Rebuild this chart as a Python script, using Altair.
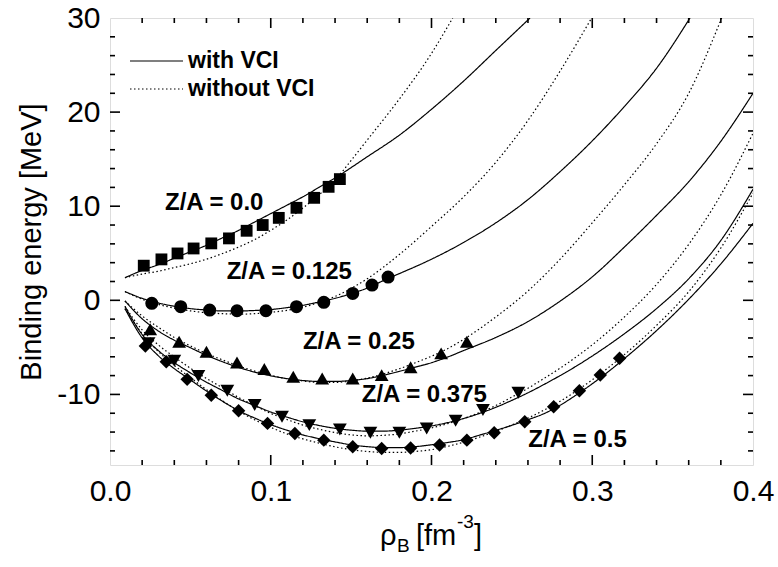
import altair as alt
import pandas as pd

# ---------------- data ----------------
za_labels = ["Z/A = 0.0", "Z/A = 0.125", "Z/A = 0.25", "Z/A = 0.375", "Z/A = 0.5"]
curve_types = ["with VCI", "without VCI"]

# symbols (points)
rho_p00 = [0.021, 0.032, 0.042, 0.052, 0.063, 0.074, 0.085, 0.095, 0.105, 0.116, 0.127, 0.136, 0.143]
e_p00 = [3.68, 4.35, 4.98, 5.51, 6.05, 6.58, 7.39, 8.0, 8.76, 9.83, 10.89, 12.06, 12.88]
rho_p0125 = [0.026, 0.044, 0.062, 0.079, 0.097, 0.116, 0.133, 0.151, 0.163, 0.173]
e_p0125 = [-0.32, -0.68, -1.04, -1.11, -1.11, -0.68, -0.21, 0.73, 1.62, 2.47]
rho_p025 = [0.025, 0.043, 0.060, 0.079, 0.096, 0.114, 0.132, 0.151, 0.169, 0.187, 0.206, 0.222]
e_p025 = [-3.08, -4.40, -5.46, -6.60, -7.30, -8.13, -8.30, -8.30, -7.95, -7.12, -5.64, -4.40]
rho_p0375 = [0.024, 0.040, 0.055, 0.073, 0.090, 0.107, 0.124, 0.143, 0.162, 0.180, 0.197, 0.215, 0.232, 0.254]
e_p0375 = [-4.57, -6.42, -8.05, -9.61, -11.13, -12.37, -13.26, -13.73, -14.08, -14.08, -13.62, -12.80, -11.66, -9.83]
rho_p05 = [0.022, 0.035, 0.048, 0.063, 0.080, 0.098, 0.115, 0.133, 0.151, 0.169, 0.187, 0.205,
           0.222, 0.239, 0.258, 0.276, 0.292, 0.305, 0.317]
e_p05 = [-4.86, -6.53, -8.40, -10.08, -11.74, -13.08, -14.15, -14.86, -15.56, -15.74, -15.70, -15.38,
         -14.86, -14.08, -12.91, -11.31, -9.61, -7.94, -6.16]

# curves (density grid)
rho_grid = [0.02, 0.03, 0.04, 0.05, 0.06, 0.07, 0.08, 0.09, 0.10, 0.11, 0.12, 0.13, 0.14, 0.15, 0.16,
            0.17, 0.18, 0.19, 0.20, 0.21, 0.22, 0.23, 0.24, 0.25, 0.26, 0.27, 0.28, 0.29, 0.30, 0.31, 0.32]
rho_start = [0.0093]

rho_s00 = rho_start + rho_grid[:13] + [0.16, 0.18, 0.20, 0.22, 0.24, 0.2613]
e_s00 = [2.40, 3.18, 3.78, 4.47, 5.16, 5.85, 6.64, 7.43, 8.32, 9.21, 10.1, 11.0, 12.0, 13.0,
         15.25, 17.55, 20.3, 23.3, 26.55, 30.0]
rho_d00 = rho_start + rho_grid[:14] + [0.16, 0.18, 0.20, 0.2132]
e_d00 = [2.40, 2.79, 3.09, 3.48, 3.88, 4.37, 4.97, 5.66, 6.45, 7.44, 8.53, 9.81, 11.2, 12.78, 14.86,
         17.03, 21.39, 26.24, 30.0]

rho_s0125 = rho_start + rho_grid[:19] + [0.22, 0.24, 0.26, 0.28, 0.30, 0.32, 0.34, 0.3608]
e_s0125 = [0.93, 0.21, -0.28, -0.63, -0.88, -1.03, -1.13, -1.13, -1.08, -0.98, -0.78, -0.53, -0.18,
           0.21, 0.71, 1.30, 2.09, 2.84, 3.58, 4.37, 6.15, 8.23, 10.7, 13.67, 16.94, 20.6, 24.66, 30.0]
rho_d0125 = rho_start + rho_grid[:13] + [0.16, 0.18, 0.20, 0.22, 0.24, 0.26, 0.28, 0.2996]
e_d0125 = [0.93, 0.11, -0.43, -0.83, -1.12, -1.32, -1.42, -1.47, -1.42, -1.27, -1.07, -0.73, -0.23,
           0.41, 2.29, 4.87, 7.85, 11.0, 14.66, 19.11, 24.36, 30.0]

rho_s025 = rho_start + rho_grid[:21] + [0.24, 0.26, 0.28, 0.30, 0.32, 0.34, 0.36, 0.38, 0.40]
e_s025 = [-0.07, -1.96, -3.25, -4.24, -5.04, -5.84, -6.53, -7.13, -7.63, -8.02, -8.32, -8.52, -8.62,
          -8.62, -8.52, -8.32, -7.97, -7.55, -7.10, -6.63, -6.03, -5.34, -3.95, -2.26, -0.09, 2.49,
          5.66, 9.03, 12.6, 16.9, 22.0]
rho_d025 = rho_start + rho_grid[:21] + [0.24, 0.26, 0.28, 0.30, 0.32, 0.34, 0.36, 0.3805]
e_d025 = [-0.07, -1.66, -2.85, -3.94, -4.84, -5.64, -6.33, -6.97, -7.52, -7.97, -8.32, -8.57, -8.72,
          -8.72, -8.57, -8.27, -7.82, -7.27, -6.63, -5.94, -5.14, -4.15, -1.77, 0.99, 4.37, 8.23,
          12.28, 16.64, 21.99, 30.0]

rho_s0375 = rho_start + rho_grid[:29] + [0.32, 0.34, 0.36, 0.38, 0.40]
e_s0375 = [-0.64, -3.64, -5.33, -6.62, -7.71, -8.70, -9.59, -10.48, -11.18, -11.87, -12.41, -12.91,
           -13.30, -13.60, -13.80, -13.90, -13.90, -13.80, -13.60, -13.35, -13.0, -12.56, -12.01,
           -11.37, -10.63, -9.83, -8.94, -8.0, -7.0, -5.92, -3.55, -0.88, 2.29, 6.36, 11.8]
rho_d0375 = rho_start + rho_grid[:29] + [0.32, 0.34, 0.36, 0.38, 0.40]
e_d0375 = [-0.64, -3.14, -4.73, -6.02, -7.21, -8.30, -9.29, -10.33, -11.18, -12.02, -12.66, -13.26,
           -13.70, -14.05, -14.30, -14.40, -14.35, -14.20, -13.90, -13.56, -13.11, -12.56, -11.92,
           -11.18, -10.28, -9.34, -8.30, -7.21, -6.02, -4.73, -1.77, 1.69, 5.95, 11.20, 17.75]

rho_s05 = rho_start + rho_grid + [0.34, 0.36, 0.38, 0.40]
e_s05 = [-0.88, -4.0, -5.88, -7.26, -8.45, -9.64, -10.73, -11.72, -12.51, -13.21, -13.80, -14.30,
         -14.70, -15.05, -15.35, -15.55, -15.65, -15.65, -15.55, -15.35, -15.11, -14.81, -14.32,
         -13.82, -13.28, -12.69, -12.04, -11.15, -10.06, -8.87, -7.58, -6.19, -3.22, 0.11, 3.87, 8.18]
rho_d05 = rho_start + rho_grid + [0.34, 0.36, 0.38, 0.40]
e_d05 = [-0.88, -3.55, -5.43, -6.92, -8.21, -9.49, -10.68, -11.77, -12.70, -13.50, -14.19, -14.73,
         -15.17, -15.57, -15.87, -16.06, -16.16, -16.16, -16.06, -15.87, -15.52, -15.07, -14.53,
         -13.94, -13.25, -12.51, -11.67, -10.73, -9.64, -8.45, -7.16, -5.77, -2.66, 0.91, 5.56, 11.40]

# label anchor positions (left edge, vertical centre) in data units
label_rho = [0.0342, 0.0726, 0.120, 0.1566, 0.2602]
label_e = [10.31, 3.04, -4.40, -10.06, -14.85]

# axis ticks
x_labels = [0.0, 0.1, 0.2, 0.3, 0.4]
y_labels = [-10, 0, 10, 20, 30]
x_major = [0.1, 0.2, 0.3]
x_minor = [0.02, 0.04, 0.06, 0.08, 0.12, 0.14, 0.16, 0.18, 0.22, 0.24, 0.26, 0.28, 0.32, 0.34, 0.36, 0.38]
y_major = [-10, 0, 10, 20]
y_minor = [-16, -14, -12, -8, -6, -4, -2, 2, 4, 6, 8, 12, 14, 16, 18, 22, 24, 26, 28]

# ---------------- tables ----------------
curve_list = [
    ("Z/A = 0.0", "with VCI", rho_s00, e_s00), ("Z/A = 0.0", "without VCI", rho_d00, e_d00),
    ("Z/A = 0.125", "with VCI", rho_s0125, e_s0125), ("Z/A = 0.125", "without VCI", rho_d0125, e_d0125),
    ("Z/A = 0.25", "with VCI", rho_s025, e_s025), ("Z/A = 0.25", "without VCI", rho_d025, e_d025),
    ("Z/A = 0.375", "with VCI", rho_s0375, e_s0375), ("Z/A = 0.375", "without VCI", rho_d0375, e_d0375),
    ("Z/A = 0.5", "with VCI", rho_s05, e_s05), ("Z/A = 0.5", "without VCI", rho_d05, e_d05),
]
rows = []
for za, vci, xs, ys in curve_list:
    for i, (xv, yv) in enumerate(zip(xs, ys)):
        rows.append({"za": za, "vci": vci, "curve": za + "|" + vci, "idx": i, "rho": xv, "e": yv})
lines_df = pd.DataFrame(rows)

point_list = [(za_labels[0], rho_p00, e_p00), (za_labels[1], rho_p0125, e_p0125),
              (za_labels[2], rho_p025, e_p025), (za_labels[3], rho_p0375, e_p0375),
              (za_labels[4], rho_p05, e_p05)]
prow = []
for za, xs, ys in point_list:
    for xv, yv in zip(xs, ys):
        prow.append({"za": za, "rho": xv, "e": yv})
pts_df = pd.DataFrame(prow)

labels_df = pd.DataFrame({"za": za_labels, "rho": label_rho, "e": label_e})

# ---------------- chart ----------------
W, H = 643, 447
FONT = "Liberation Sans"
xscale = alt.Scale(domain=[0, 0.4], nice=False, zero=False)
yscale = alt.Scale(domain=[-17.5, 30], nice=False, zero=False)

xaxis = alt.Axis(values=x_labels, format=".1f", ticks=False, domain=False, grid=False,
                 labelFontSize=30, labelFont=FONT, labelColor="black", labelPadding=11,
                 labelFlush=False, labelOverlap=False, title=None)
yaxis = alt.Axis(values=y_labels, ticks=False, domain=False, grid=False,
                 labelExpr="'' + datum.value",
                 labelFontSize=30, labelFont=FONT, labelColor="black", labelPadding=10,
                 labelOverlap=False, title="Binding energy [MeV]", titleFont=FONT,
                 titleFontSize=29, titleFontWeight="normal", titleColor="black", titlePadding=10)

lines = alt.Chart(lines_df).mark_line(color="black", strokeWidth=1.2, interpolate="monotone",
                                      clip=True).encode(
    x=alt.X("rho:Q", scale=xscale, axis=xaxis),
    y=alt.Y("e:Q", scale=yscale, axis=yaxis),
    detail="curve:N",
    order="idx:Q",
    strokeDash=alt.StrokeDash("vci:N", scale=alt.Scale(domain=curve_types, range=[[1, 0], [1.5, 2.5]]),
                              legend=None),
)

shapes = ["square", "circle", "triangle-up", "triangle-down", "diamond"]
sizes = [140, 170, 190, 190, 180]
point_layers = []
for za, shp, sz in zip(za_labels, shapes, sizes):
    point_layers.append(
        alt.Chart(pts_df).transform_filter(alt.datum.za == za)
        .mark_point(shape=shp, size=sz, filled=True, color="black", opacity=1, strokeWidth=0)
        .encode(x=alt.X("rho:Q", scale=xscale), y=alt.Y("e:Q", scale=yscale))
    )

za_text = alt.Chart(labels_df).mark_text(align="left", baseline="middle", fontSize=24,
                                          fontWeight="bold", font=FONT, color="black").encode(
    x=alt.X("rho:Q", scale=xscale), y=alt.Y("e:Q", scale=yscale), text="za:N")

# inward ticks on all four sides
def xticks(vals, y0, y1):
    return alt.Chart(pd.DataFrame({"v": vals})).mark_rule(color="black", strokeWidth=1.6).encode(
        x=alt.X("v:Q", scale=xscale), y=alt.value(y0), y2=alt.value(y1))

def yticks(vals, x0, x1):
    return alt.Chart(pd.DataFrame({"v": vals})).mark_rule(color="black", strokeWidth=1.6).encode(
        y=alt.Y("v:Q", scale=yscale), x=alt.value(x0), x2=alt.value(x1))

tick_layers = [
    xticks(x_major, H, H - 10), xticks(x_minor, H, H - 5),
    xticks(x_major, 0, 10), xticks(x_minor, 0, 5),
    yticks(y_major, 0, 10), yticks(y_minor, 0, 5),
    yticks(y_major, W, W - 10), yticks(y_minor, W, W - 5),
]

# legend (drawn by hand)
legend_layers = []
legend_y = [43, 71]
dashes = [[1, 0], [1.5, 2.5]]
for lab, ly, dsh in zip(curve_types, legend_y, dashes):
    one = pd.DataFrame({"lab": [lab]})
    legend_layers.append(alt.Chart(one).mark_rule(color="black", strokeWidth=1.2, strokeDash=dsh).encode(
        x=alt.value(20), x2=alt.value(73), y=alt.value(ly)))
    legend_layers.append(alt.Chart(one).mark_text(align="left", baseline="middle", fontSize=23,
                                                  fontWeight="bold", font=FONT, color="black").encode(
        x=alt.value(78), y=alt.value(ly), text="lab:N"))

# x-axis title rho_B [fm^-3] with sub/superscripts
title_parts = [("\u03c1", 29, 270, 527), ("B", 19, 287, 534), ("[fm", 29, 306, 527),
               ("-3", 19, 347, 510), ("]", 29, 364, 527)]
title_layers = []
for txt, fs, tx, ty in title_parts:
    title_layers.append(alt.Chart(pd.DataFrame({"t": [txt]})).mark_text(
        align="left", baseline="alphabetic", fontSize=fs, font=FONT, color="black").encode(
        x=alt.value(tx), y=alt.value(ty), text="t:N"))

chart = alt.layer(lines, *point_layers, za_text, *tick_layers, *legend_layers, *title_layers).properties(
    width=W, height=H,
    autosize=alt.AutoSizeParams(type="none"),
    padding={"left": 110, "top": 18, "right": 25, "bottom": 102},
).configure_view(stroke="black", strokeWidth=2).configure(background="white", font=FONT)

chart.save("out.html", embed_options={"renderer": "svg", "actions": False})
